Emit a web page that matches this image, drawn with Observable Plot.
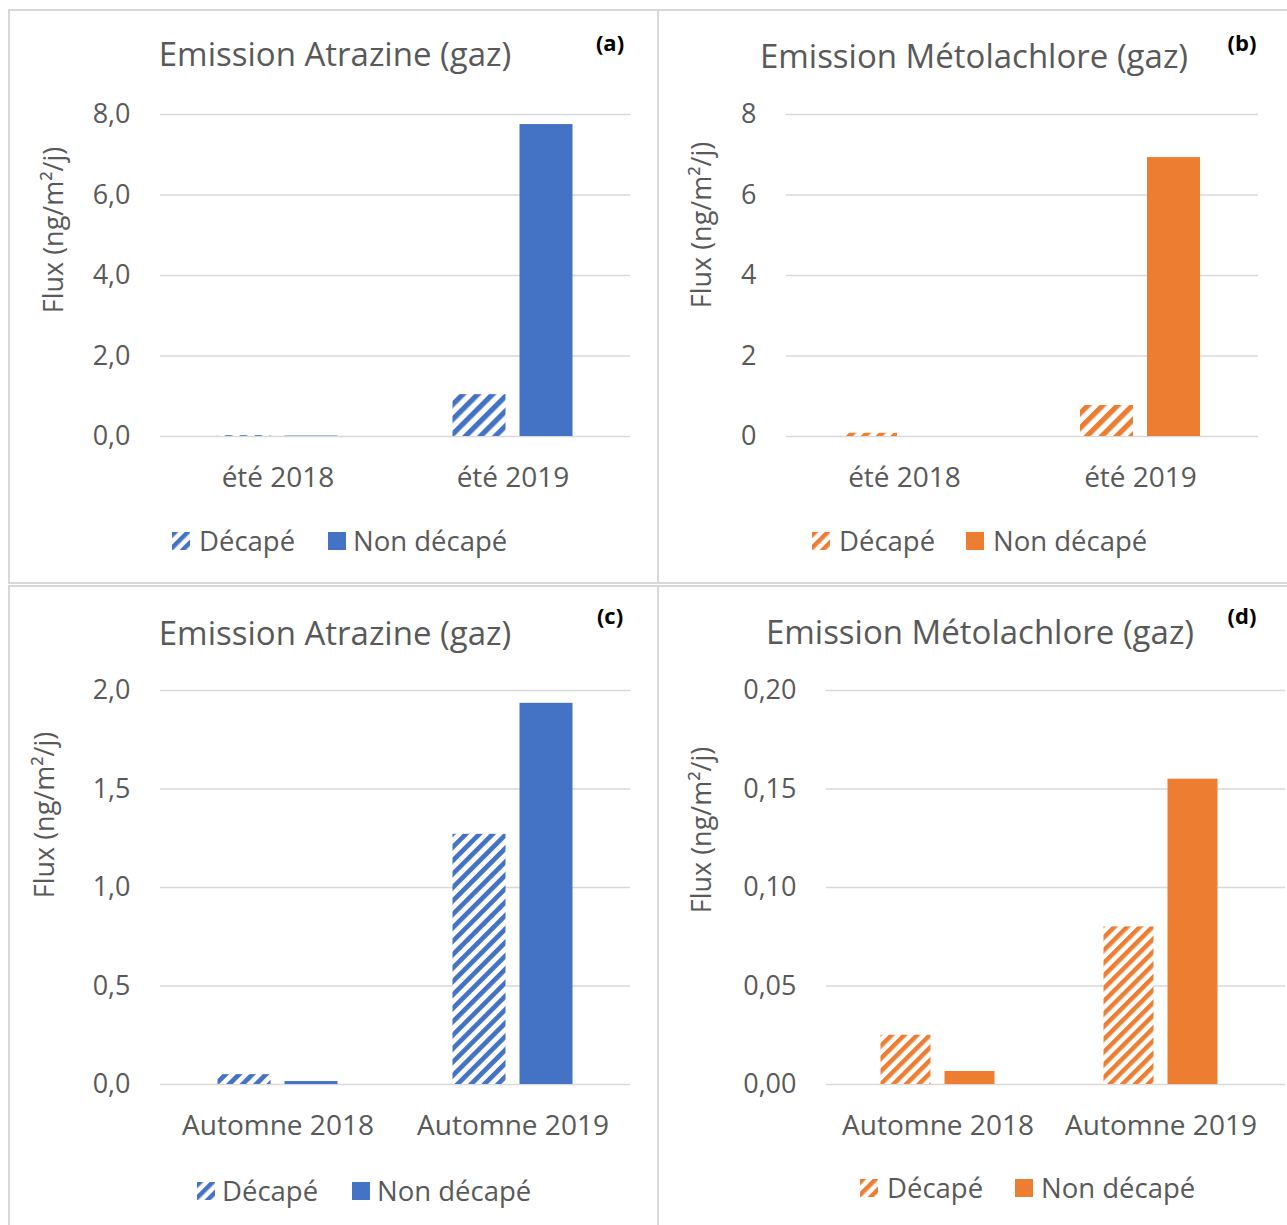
<!DOCTYPE html>
<html><head><meta charset="utf-8">
<script src="https://cdn.jsdelivr.net/npm/d3@7"></script>
<script src="https://cdn.jsdelivr.net/npm/@observablehq/plot@0.6"></script>
<style>
html,body{margin:0;padding:0;background:#fff;}
body{width:1287px;height:1225px;position:relative;overflow:hidden;font-family:"Open Sans",sans-serif;color:#595959;}
.abs{position:absolute;white-space:nowrap;line-height:1;}
.box{position:absolute;border:2px solid #d9d9d9;box-sizing:border-box;}
.c{transform:translate(-50%,-50%);}
.rot{transform:translate(-50%,-50%) rotate(-90deg);}
.lg{transform:translateY(-50%);}
</style></head>
<body>
<svg width="0" height="0" style="position:absolute">
  <defs>
    <pattern id="hbA" patternUnits="userSpaceOnUse" width="10.5" height="10.5" patternTransform="rotate(45)"><rect width="10.5" height="10.5" fill="#fff"/><rect width="5.2" height="10.5" fill="#4472C4"/></pattern>
    <pattern id="hoB" patternUnits="userSpaceOnUse" width="10.5" height="10.5" patternTransform="rotate(45)"><rect width="10.5" height="10.5" fill="#fff"/><rect width="5.2" height="10.5" fill="#ED7D31"/></pattern>
    <pattern id="hbC" patternUnits="userSpaceOnUse" width="9.5" height="9.5" patternTransform="rotate(45)"><rect width="9.5" height="9.5" fill="#fff"/><rect width="4.7" height="9.5" fill="#4472C4"/></pattern>
    <pattern id="hoD" patternUnits="userSpaceOnUse" width="9" height="9" patternTransform="rotate(45)"><rect width="9" height="9" fill="#fff"/><rect width="4.5" height="9" fill="#ED7D31"/></pattern>
    <pattern id="lgB" patternUnits="userSpaceOnUse" width="9" height="9" patternTransform="rotate(45)"><rect width="9" height="9" fill="#fff"/><rect width="4.5" height="9" fill="#4472C4"/></pattern>
    <pattern id="lgO" patternUnits="userSpaceOnUse" width="9" height="9" patternTransform="rotate(45)"><rect width="9" height="9" fill="#fff"/><rect width="4.5" height="9" fill="#ED7D31"/></pattern>
  </defs>
</svg>
<script>
// ---- Data ----
const seriesNames = ["Décapé", "Non décapé"];
const catSummer = ["été 2018", "été 2019"];
const catAutumn = ["Automne 2018", "Automne 2019"];
const atrazineSummerDecape = [0.02, 1.04];
const atrazineSummerNonDecape = [0.01, 7.75];
const metolachloreSummerDecape = [0.08, 0.77];
const metolachloreSummerNonDecape = [0.0, 6.93];
const atrazineAutumnDecape = [0.05, 1.27];
const atrazineAutumnNonDecape = [0.015, 1.935];
const metolachloreAutumnDecape = [0.025, 0.08];
const metolachloreAutumnNonDecape = [0.0066, 0.155];
const ticksA = [0, 2, 4, 6, 8];
const ticksB = [0, 2, 4, 6, 8];
const ticksC = [0, 0.5, 1.0, 1.5, 2.0];
const ticksD = [0, 0.05, 0.10, 0.15, 0.20];
const titleAtrazine = "Emission Atrazine (gaz)";
const titleMeto = "Emission Métolachlore (gaz)";
const yLabel = "Flux (ng/m²/j)";

const blue = "#4472C4", orange = "#ED7D31";
const fmt = d => (v => d3.format("." + d + "f")(v).replace(".", ","));

const body = document.body;
function el(cls, css, html) {
  const d = document.createElement("div");
  d.className = cls; d.style.cssText = css; if (html != null) d.innerHTML = html;
  body.appendChild(d); return d;
}

// panel borders
el("box", "left:8px;top:9px;width:651px;height:575px;");
el("box", "left:657px;top:9px;width:660px;height:575px;");
el("box", "left:8px;top:585px;width:651px;height:660px;");
el("box", "left:657px;top:585px;width:660px;height:660px;");

function panel(o) {
  const rows = o.cats.map((c, i) => ({cat: c, dec: o.dec[i], non: o.non[i]}));
  const plotL = o.plotL, plotR = o.plotR;
  const bw = (plotR - (o.insetR || 0) - plotL) / 2;
  const half = bw / 2, g = o.gap / 2;
  const chart = Plot.plot({
    width: o.W, height: o.H,
    marginLeft: plotL - o.L, marginRight: o.L + o.W - plotR,
    marginTop: o.plotT - o.T, marginBottom: o.T + o.H - o.plotB,
    style: {fontFamily: '"Open Sans", sans-serif', color: "#595959", background: "transparent", overflow: "visible"},
    x: {domain: o.cats, padding: 0, insetRight: o.insetR || 0},
    y: {domain: [0, o.ticks[o.ticks.length - 1]]},
    marks: [
      Plot.ruleY(o.ticks, {stroke: "#d9d9d9", strokeWidth: 1.5}),
      Plot.barY(rows, {x: "cat", y: "dec", fill: o.pattern, insetLeft: half - g - o.barW, insetRight: half + g}),
      Plot.barY(rows, {x: "cat", y: "non", fill: o.color, insetLeft: half + g, insetRight: half - g - o.barW}),
      Plot.axisY({ticks: o.ticks, tickFormat: o.fmt, tickSize: 0, tickPadding: 30, fontSize: 27, label: null}),
      Plot.axisX({tickSize: 0, tickPadding: 31, fontSize: 28, label: null})
    ]
  });
  chart.style.position = "absolute";
  chart.style.left = o.L + "px"; chart.style.top = o.T + "px";
  body.appendChild(chart);
  el("abs c", `left:${o.titleX}px;top:${o.titleY}px;font-size:33px;`, o.title);
  el("abs c", `left:${o.tagX}px;top:${o.tagY}px;font-size:22px;font-weight:bold;color:#000;`, o.tag);
  el("abs rot", `left:${o.ylX}px;top:${o.ylY}px;font-size:27px;`, yLabel);
  // legend
  const sw = (x, fill) => el("abs lg", `left:${x}px;top:${o.lgY}px;width:18px;height:18px;`,
    `<svg width="18" height="18"><rect width="18" height="18" fill="${fill}"/></svg>`);
  sw(o.lg[0], o.lgPattern);
  el("abs lg", `left:${o.lg[1]}px;top:${o.lgY}px;font-size:27.5px;`, seriesNames[0]);
  sw(o.lg[2], o.color);
  el("abs lg", `left:${o.lg[3]}px;top:${o.lgY}px;font-size:27.5px;`, seriesNames[1]);
}

panel({L: 10, T: 12, W: 648, H: 500, plotL: 160, plotR: 630, plotT: 114, plotB: 436,
  cats: catSummer, dec: atrazineSummerDecape, non: atrazineSummerNonDecape, ticks: ticksA, fmt: fmt(1),
  color: blue, pattern: "url(#hbA)", lgPattern: "url(#lgB)", barW: 53, gap: 14,
  title: titleAtrazine, titleX: 335, titleY: 53, tag: "(a)", tagX: 610, tagY: 42, ylX: 52, ylY: 230,
  lgY: 541, lg: [172, 199, 328, 353]});
panel({L: 661, T: 12, W: 625, H: 500, plotL: 786, plotR: 1258, plotT: 114, plotB: 436,
  cats: catSummer, dec: metolachloreSummerDecape, non: metolachloreSummerNonDecape, ticks: ticksB, fmt: fmt(0),
  color: orange, pattern: "url(#hoB)", lgPattern: "url(#lgO)", barW: 53, gap: 14,
  title: titleMeto, titleX: 974, titleY: 55, tag: "(b)", tagX: 1242, tagY: 42, ylX: 700, ylY: 225,
  lgY: 541, lg: [812, 839, 966, 993]});
panel({L: 10, T: 588, W: 648, H: 560, plotL: 160, plotR: 630, plotT: 690, plotB: 1084,
  cats: catAutumn, dec: atrazineAutumnDecape, non: atrazineAutumnNonDecape, ticks: ticksC, fmt: fmt(1),
  color: blue, pattern: "url(#hbC)", lgPattern: "url(#lgB)", barW: 53, gap: 14,
  title: titleAtrazine, titleX: 335, titleY: 632, tag: "(c)", tagX: 610, tagY: 615, ylX: 43, ylY: 815,
  lgY: 1191, lg: [197, 222, 352, 377]});
panel({L: 661, T: 588, W: 625, H: 560, plotL: 826, plotR: 1285, insetR: 13, plotT: 690, plotB: 1084,
  cats: catAutumn, dec: metolachloreAutumnDecape, non: metolachloreAutumnNonDecape, ticks: ticksD, fmt: fmt(2),
  color: orange, pattern: "url(#hoD)", lgPattern: "url(#lgO)", barW: 50, gap: 14,
  title: titleMeto, titleX: 980, titleY: 631, tag: "(d)", tagX: 1242, tagY: 615, ylX: 700, ylY: 830,
  lgY: 1188, lg: [860, 887, 1015, 1041]});
</script>
</body></html>
